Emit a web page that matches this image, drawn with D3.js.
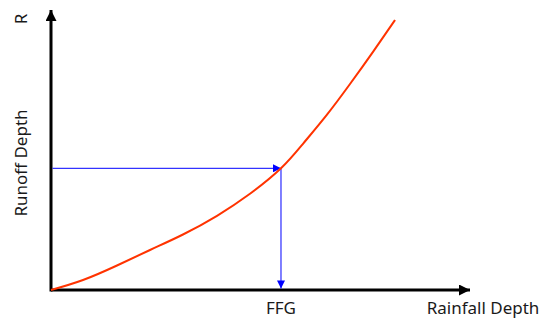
<!DOCTYPE html>
<html lang="en">
<head>
  <meta charset="UTF-8">
  <title>Flash Flood Guidance curve</title>
  <script src="https://d3js.org/d3.v7.min.js"></script>
  <style>
    body { margin: 0; background: #fff; }
    text { font-family: "Noto Sans", "Open Sans", sans-serif; fill: #1a1a1a; }
  </style>
</head>
<body>
  <svg width="550" height="328"></svg>

  <script>
    // rainfall-runoff curve (arbitrary units)
    const rainfall = [0, 0.764, 1.575, 2.363, 3.150, 3.962, 4.749, 5.489, 6.014, 6.587, 7.136, 7.685, 8.210];
    const runoff   = [0, 0.357, 0.875, 1.429, 1.982, 2.650, 3.436, 4.346, 5.221, 6.264, 7.357, 8.507, 9.643];
    const ffg = 5.489;      // rainfall at the guidance point
    const ffgRunoff = 4.346;

    const svg = d3.select("svg");

    const x = d3.scaleLinear().domain([0, 10]).range([51, 470]);
    const y = d3.scaleLinear().domain([0, 10]).range([290, 10]);

    // arrow heads
    const defs = svg.append("defs");
    function marker(id, color, w, h) {
      defs.append("marker")
          .attr("id", id)
          .attr("viewBox", "0 0 10 10")
          .attr("refX", 10).attr("refY", 5)
          .attr("markerUnits", "userSpaceOnUse")
          .attr("markerWidth", w).attr("markerHeight", h)
          .attr("orient", "auto")
        .append("path")
          .attr("d", "M0,0L10,5L0,10Z")
          .attr("fill", color);
    }
    marker("ax", "#000", 13, 11);
    marker("bl", "#0000ff", 9, 8);

    // axes
    svg.append("line")
       .attr("x1", x(0)).attr("y1", y(0))
       .attr("x2", x(10)).attr("y2", y(0))
       .attr("stroke", "#000").attr("stroke-width", 3)
       .attr("marker-end", "url(#ax)");
    svg.append("line")
       .attr("x1", x(0)).attr("y1", y(0) + 1.5)
       .attr("x2", x(0)).attr("y2", y(10))
       .attr("stroke", "#000").attr("stroke-width", 3)
       .attr("marker-end", "url(#ax)");

    // blue guide lines
    svg.append("line")
       .attr("x1", x(0) + 1.5).attr("y1", y(ffgRunoff))
       .attr("x2", x(ffg)).attr("y2", y(ffgRunoff))
       .attr("stroke", "#0000ff").attr("stroke-width", 1)
       .attr("marker-end", "url(#bl)");
    svg.append("line")
       .attr("x1", x(ffg)).attr("y1", y(ffgRunoff))
       .attr("x2", x(ffg)).attr("y2", y(0) - 1.5)
       .attr("stroke", "#0000ff").attr("stroke-width", 1)
       .attr("marker-end", "url(#bl)");

    // curve
    const line = d3.line()
        .x(d => x(d[0]))
        .y(d => y(d[1]))
        .curve(d3.curveNatural);
    svg.append("path")
       .datum(d3.zip(rainfall, runoff))
       .attr("d", line)
       .attr("fill", "none")
       .attr("stroke", "#ff3300")
       .attr("stroke-width", 2);

    // labels
    svg.append("text")
       .attr("x", x(ffg))
       .attr("y", 314)
       .attr("text-anchor", "middle")
       .attr("font-size", 17)
       .text("FFG");
    svg.append("text")
       .attr("x", 483)
       .attr("y", 314)
       .attr("text-anchor", "middle")
       .attr("font-size", 17)
       .text("Rainfall Depth");
    svg.append("text")
       .attr("transform", "translate(27,163) rotate(-90)")
       .attr("text-anchor", "middle")
       .attr("font-size", 17)
       .text("Runoff Depth");
    svg.append("text")
       .attr("transform", "translate(27,19) rotate(-90)")
       .attr("text-anchor", "middle")
       .attr("font-size", 17)
       .text("R");
  </script>
</body>
</html>
